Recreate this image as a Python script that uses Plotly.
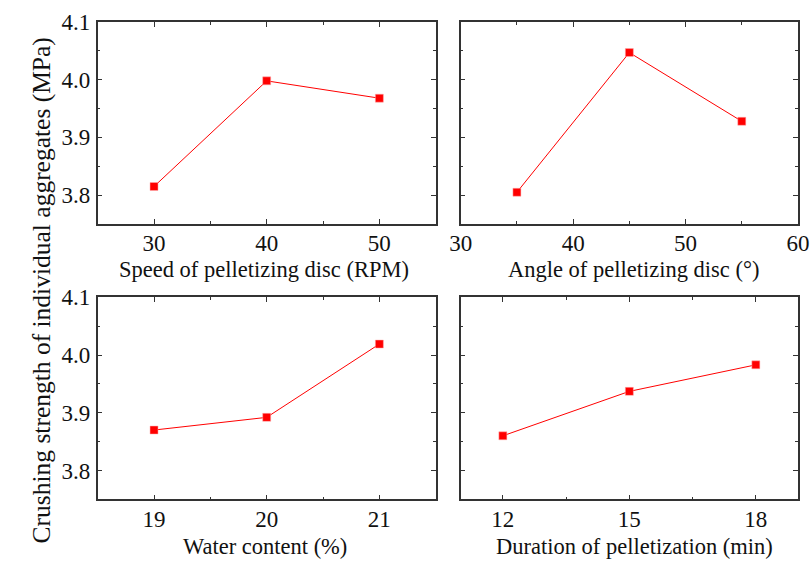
import plotly.graph_objects as go

# Data
speed_x = [30, 40, 50]
speed_y = [3.815, 3.998, 3.968]
angle_x = [35, 45, 55]
angle_y = [3.805, 4.047, 3.928]
water_x = [19, 20, 21]
water_y = [3.870, 3.892, 4.019]
dur_x = [12, 15, 18]
dur_y = [3.860, 3.937, 3.983]

titles = ["Speed of pelletizing disc (RPM)", "Angle of pelletizing disc (°)",
          "Water content (%)", "Duration of pelletization (min)"]
ytitle = "Crushing strength of individual aggregates (MPa)"

W, H = 810, 563
FONT = "Liberation Serif"

fig = go.Figure()
series = [(speed_x, speed_y), (angle_x, angle_y), (water_x, water_y), (dur_x, dur_y)]
for i, (xs, ys) in enumerate(series):
    n = "" if i == 0 else str(i + 1)
    fig.add_trace(go.Scatter(x=xs, y=ys, mode="lines+markers",
                             line=dict(color="#ff0000", width=1),
                             marker=dict(symbol="square", size=8, color="#ff0000",
                                         line=dict(color="#ffb0b0", width=0.5)),
                             xaxis="x" + n, yaxis="y" + n, showlegend=False))

def px_dom(a, b, total):
    return [a / total, b / total]

xdoms = [px_dom(97.7, 435.7, W), px_dom(460.7, 798, W)]
ydoms = [[1 - 224 / H, 1 - 22 / H], [1 - 499.3 / H, 1 - 297.3 / H]]

xranges = [[25, 55], [30, 60], [18.5, 21.5], [11, 19]]
xdt = [10, 10, 1, 3]
xminor = [5, 5, 0.5, 1.5]
xtick0 = [30, 30, 19, 12]

axis_common = dict(showline=True, linecolor="#333333", linewidth=1.5, mirror="ticks",
                   ticks="inside", ticklen=5, tickwidth=1.2, tickcolor="#333333",
                   showgrid=False, zeroline=False, automargin=False,
                   tickfont=dict(family=FONT, size=23, color="#111111"))

layout = dict(width=W, height=H, margin=dict(l=0, r=0, t=0, b=0),
              paper_bgcolor="white", plot_bgcolor="white",
              font=dict(family=FONT, color="#111111"))

for i in range(4):
    n = "" if i == 0 else str(i + 1)
    col, row = i % 2, i // 2
    xa = dict(axis_common)
    xa.update(domain=xdoms[col], range=xranges[i], dtick=xdt[i], tick0=xtick0[i],
              anchor="y" + n, ticklabelstandoff=-2,
              minor=dict(dtick=xminor[i], ticks="inside", ticklen=3, tickcolor="#333333", showgrid=False))
    ya = dict(axis_common)
    ya.update(domain=ydoms[row], range=[3.75, 4.1], dtick=0.1, tick0=3.8, tickformat=".1f",
              anchor="x" + n, showticklabels=(col == 0), ticklabelstandoff=1,
              minor=dict(dtick=0.05, ticks="inside", ticklen=3, tickcolor="#333333", showgrid=False))
    layout["xaxis" + n] = xa
    layout["yaxis" + n] = ya

title_pos = [(264, 269), (633, 269), (265, 546), (634, 546)]
anns = [dict(text=ytitle, x=24 / W, y=1 - 291 / H, xref="paper", yref="paper",
             textangle=-90, showarrow=False,
             font=dict(family=FONT, size=25.5, color="#111111"))]
for t, (px, py) in zip(titles, title_pos):
    anns.append(dict(text=t, x=px / W, y=1 - py / H, xref="paper", yref="paper",
                     showarrow=False, xanchor="center", yanchor="middle",
                     font=dict(family=FONT, size=22.5, color="#111111")))
layout["annotations"] = anns
fig.update_layout(**layout)
fig.write_html("out.html")
